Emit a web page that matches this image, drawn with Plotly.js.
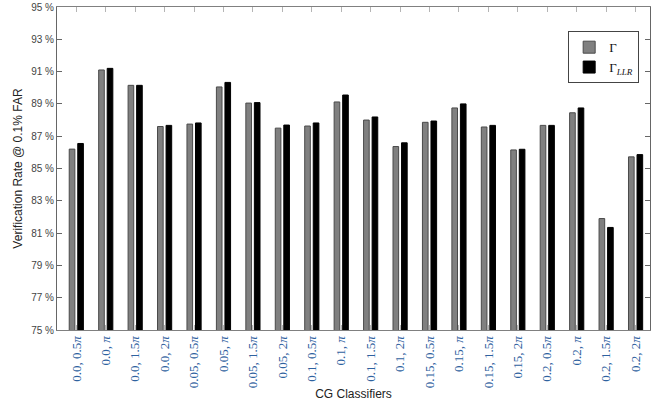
<!DOCTYPE html>
<html>
<head>
<meta charset="utf-8">
<script src="https://cdn.plot.ly/plotly-3.0.1.min.js"></script>
<style>html,body{margin:0;padding:0;background:#fff;}#chart{width:652px;height:402px;}</style>
</head>
<body>
<div id="chart"></div>
<script>
const categories = ["0.0, 0.5π","0.0, π","0.0, 1.5π","0.0, 2π","0.05, 0.5π","0.05, π","0.05, 1.5π","0.05, 2π","0.1, 0.5π","0.1, π","0.1, 1.5π","0.1, 2π","0.15, 0.5π","0.15, π","0.15, 1.5π","0.15, 2π","0.2, 0.5π","0.2, π","0.2, 1.5π","0.2, 2π"];
const tickLabels = ["0.0, 0.5<i>π</i>","0.0, <i>π</i>","0.0, 1.5<i>π</i>","0.0, 2<i>π</i>","0.05, 0.5<i>π</i>","0.05, <i>π</i>","0.05, 1.5<i>π</i>","0.05, 2<i>π</i>","0.1, 0.5<i>π</i>","0.1, <i>π</i>","0.1, 1.5<i>π</i>","0.1, 2<i>π</i>","0.15, 0.5<i>π</i>","0.15, <i>π</i>","0.15, 1.5<i>π</i>","0.15, 2<i>π</i>","0.2, 0.5<i>π</i>","0.2, <i>π</i>","0.2, 1.5<i>π</i>","0.2, 2<i>π</i>"];
const gamma    = [86.2, 91.1, 90.15, 87.6, 87.75, 90.05, 89.05, 87.5, 87.63, 89.12, 88.0, 86.36, 87.86, 88.75, 87.57, 86.15, 87.67, 88.45, 81.9, 85.72];
const gammaLLR = [86.55, 91.2, 90.15, 87.67, 87.82, 90.33, 89.08, 87.69, 87.82, 89.55, 88.19, 86.59, 87.94, 89.0, 87.67, 86.19, 87.67, 88.75, 81.35, 85.86];
const yTicks = [75,77,79,81,83,85,87,89,91,93,95];
const yTickText = yTicks.map(v => v + " %");

const traces = [
  {type:'bar', name:'Γ', x:categories, y:gamma,
   marker:{color:'#808080', line:{color:'#4a4a4a', width:1}}},
  {type:'bar', name:'Γ<sub><i>LLR</i></sub>', x:categories, y:gammaLLR,
   marker:{color:'#000000', line:{color:'#000000', width:1}}}
];

const layout = {
  width:652, height:402,
  margin:{l:57, r:2, t:7, b:72},
  paper_bgcolor:'#ffffff', plot_bgcolor:'#ffffff',
  barmode:'group', bargap:0.42, bargroupgap:0.34,
  showlegend:true,
  legend:{x:0.862, y:0.925, xanchor:'left', yanchor:'top',
          bgcolor:'#ffffff', bordercolor:'#444', borderwidth:1,
          font:{family:'Liberation Serif, DejaVu Serif, serif', size:13, color:'#111'},
          tracegroupgap:0},
  xaxis:{type:'category', range:[-0.656, 19.49],
         tickmode:'array', tickvals:categories, ticktext:tickLabels,
         tickangle:-90, ticks:'inside', ticklen:5, tickcolor:'#b5b5b5',
         showline:true, linecolor:'#808080', linewidth:1, mirror:'ticks',
         showgrid:false, zeroline:false,
         tickfont:{family:'Liberation Serif, DejaVu Serif, serif', size:13, color:'#2f62a0'},
         title:{text:'CG Classifiers', standoff:2,
                font:{family:'Liberation Sans, Arial, sans-serif', size:12, color:'#222'}}},
  yaxis:{range:[75,95], tickmode:'array', tickvals:yTicks, ticktext:yTickText,
         ticks:'inside', ticklen:5, tickcolor:'#666',
         showline:true, linecolor:'#666', linewidth:1, mirror:'ticks',
         showgrid:false, zeroline:false,
         tickfont:{family:'Liberation Sans, Arial, sans-serif', size:10, color:'#444'},
         title:{text:'Verification Rate @ 0.1% FAR', standoff:6,
                font:{family:'Liberation Sans, Arial, sans-serif', size:12, color:'#222'}}}
};

Plotly.newPlot('chart', traces, layout, {displayModeBar:false, staticPlot:true});
</script>
</body>
</html>
